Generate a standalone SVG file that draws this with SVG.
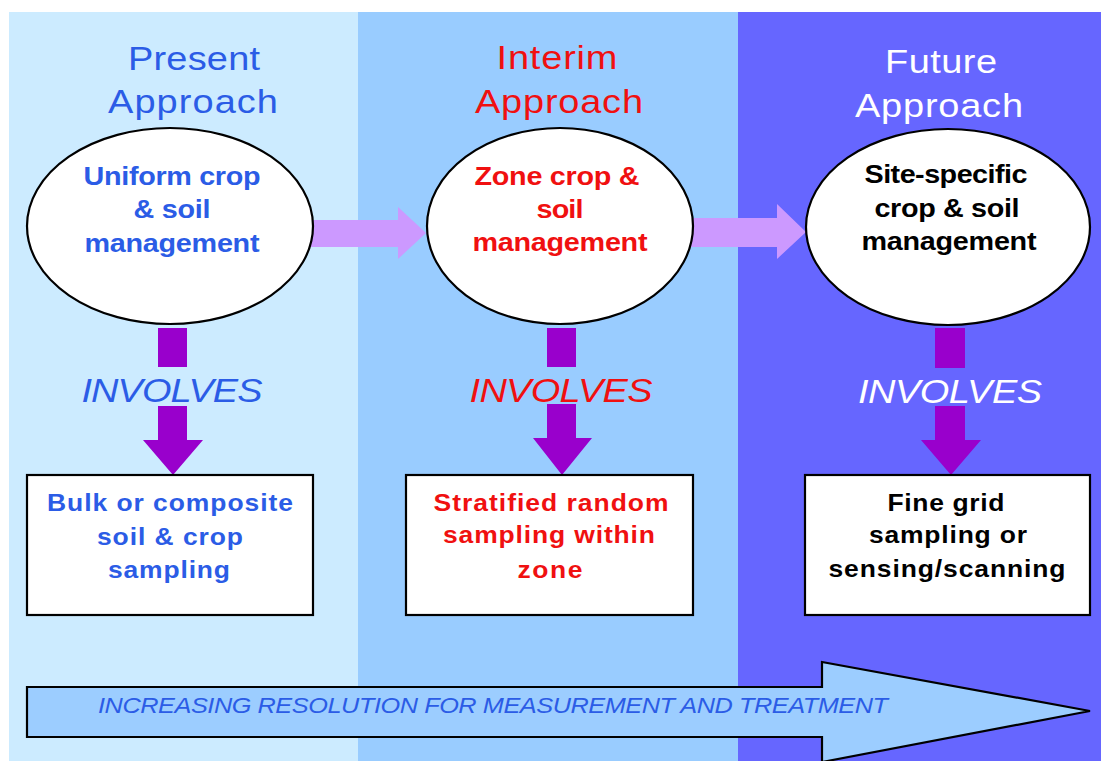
<svg xmlns="http://www.w3.org/2000/svg" width="1101" height="761" viewBox="0 0 1101 761">
<style>
.title{font-family:"Liberation Sans",Arial,sans-serif;font-size:33px;text-anchor:middle}
.el{font-family:"Liberation Sans",Arial,sans-serif;font-size:25px;font-weight:bold;text-anchor:middle}
.bx{font-family:"Liberation Sans",Arial,sans-serif;font-size:23px;font-weight:bold;text-anchor:middle}
.inv{font-family:"Liberation Sans",Arial,sans-serif;font-size:33px;font-style:italic;text-anchor:middle}
.blue{fill:#2B5CE6}
.red{fill:#F01010}
.white{fill:#FFFFFF}
.black{fill:#000000}
.ell{fill:#FFFFFF;stroke:#000;stroke-width:2.2}
.box{fill:#FFFFFF;stroke:#000;stroke-width:2.2}
.harrow{fill:#CC99FF}
.varrow{fill:#9900CC}
</style>
<rect x="0" y="0" width="1101" height="761" fill="#FFFFFF"/>
<g id="panels">
<rect x="9" y="12" width="349" height="749" fill="#CCEBFF"/>
<rect x="358" y="12" width="380" height="749" fill="#99CCFF"/>
<rect x="738" y="12" width="363" height="749" fill="#6666FF"/>
</g>
<g id="titles">
<text class="title blue" transform="translate(194 70) scale(1.15 1)" textLength="114.8" lengthAdjust="spacing">Present</text>
<text class="title blue" transform="translate(193 113) scale(1.15 1)" textLength="147.8" lengthAdjust="spacing">Approach</text>
<text class="title red" transform="translate(557 69) scale(1.15 1)" textLength="105.2" lengthAdjust="spacing">Interim</text>
<text class="title red" transform="translate(559 113) scale(1.15 1)" textLength="146.1" lengthAdjust="spacing">Approach</text>
<text class="title white" transform="translate(941 73) scale(1.15 1)" textLength="97.4" lengthAdjust="spacing">Future</text>
<text class="title white" transform="translate(939 117) scale(1.15 1)" textLength="146.1" lengthAdjust="spacing">Approach</text>
</g>
<g id="connectors">
<polygon class="harrow" points="300,220 398,220 398,207 426,233 398,259 398,247 300,247"/>
<polygon class="harrow" points="680,218 777,218 777,204 806,232 777,259 777,247 680,247"/>
<rect class="varrow" x="158" y="328" width="29" height="39"/>
<polygon class="varrow" points="158,406 187,406 187,440 203,440 173,475 143,440 158,440"/>
<rect class="varrow" x="547" y="328" width="29" height="39"/>
<polygon class="varrow" points="547,404 576,404 576,438 592,438 562,475 533,438 547,438"/>
<rect class="varrow" x="935" y="328" width="30" height="40"/>
<polygon class="varrow" points="935,406 965,406 965,440 981,440 951,475 921,440 935,440"/>
<text class="inv blue" transform="translate(172 402) scale(1.15 1)" textLength="157.4" lengthAdjust="spacing">INVOLVES</text>
<text class="inv red" transform="translate(561 402) scale(1.15 1)" textLength="159.1" lengthAdjust="spacing">INVOLVES</text>
<text class="inv white" transform="translate(950 403) scale(1.15 1)" textLength="160" lengthAdjust="spacing">INVOLVES</text>
</g>
<g id="node-present">
<ellipse class="ell" cx="170" cy="226" rx="143" ry="98"/>
<text class="el blue" transform="translate(172 185) scale(1.15 1)" textLength="153.9" lengthAdjust="spacing">Uniform crop</text>
<text class="el blue" transform="translate(172 218) scale(1.15 1)" textLength="67" lengthAdjust="spacing">&amp; soil</text>
<text class="el blue" transform="translate(172 252) scale(1.15 1)" textLength="152.2" lengthAdjust="spacing">management</text>
</g>
<g id="node-interim">
<ellipse class="ell" cx="560" cy="226" rx="133" ry="98"/>
<text class="el red" transform="translate(557 185) scale(1.15 1)" textLength="143.5" lengthAdjust="spacing">Zone crop &amp;</text>
<text class="el red" transform="translate(560 218) scale(1.15 1)" textLength="40.9" lengthAdjust="spacing">soil</text>
<text class="el red" transform="translate(560 251) scale(1.15 1)" textLength="152.2" lengthAdjust="spacing">management</text>
</g>
<g id="node-future">
<ellipse class="ell" cx="948" cy="227" rx="142" ry="98"/>
<text class="el black" transform="translate(946 183) scale(1.15 1)" textLength="141.7" lengthAdjust="spacing">Site-specific</text>
<text class="el black" transform="translate(947 217) scale(1.15 1)" textLength="126.1" lengthAdjust="spacing">crop &amp; soil</text>
<text class="el black" transform="translate(949 250) scale(1.15 1)" textLength="152.2" lengthAdjust="spacing">management</text>
</g>
<g id="box-present">
<rect class="box" x="27" y="475" width="286" height="140"/>
<text class="bx blue" transform="translate(170 511) scale(1.15 1)" textLength="213.9" lengthAdjust="spacing">Bulk or composite</text>
<text class="bx blue" transform="translate(170 545) scale(1.15 1)" textLength="127" lengthAdjust="spacing">soil &amp; crop</text>
<text class="bx blue" transform="translate(169 578) scale(1.15 1)" textLength="106.1" lengthAdjust="spacing">sampling</text>
</g>
<g id="box-interim">
<rect class="box" x="406" y="475" width="287" height="140"/>
<text class="bx red" transform="translate(551 511) scale(1.15 1)" textLength="204.3" lengthAdjust="spacing">Stratified random</text>
<text class="bx red" transform="translate(549 543) scale(1.15 1)" textLength="184.3" lengthAdjust="spacing">sampling within</text>
<text class="bx red" transform="translate(550 578) scale(1.15 1)" textLength="56.5" lengthAdjust="spacing">zone</text>
</g>
<g id="box-future">
<rect class="box" x="805" y="475" width="285" height="140"/>
<text class="bx black" transform="translate(946 511) scale(1.15 1)" textLength="101.7" lengthAdjust="spacing">Fine grid</text>
<text class="bx black" transform="translate(948 543) scale(1.15 1)" textLength="137.4" lengthAdjust="spacing">sampling or</text>
<text class="bx black" transform="translate(947 577) scale(1.15 1)" textLength="206.1" lengthAdjust="spacing">sensing/scanning</text>
</g>
<g id="resolution-arrow">
<polygon points="27,687 822,687 822,662 1090,711 822,762 822,737 27,737" fill="#9CCDFF" stroke="#000" stroke-width="2.2"/>
<text transform="translate(98 713) scale(1.15 1)" font-family="Liberation Sans, Arial, sans-serif" font-size="22" font-style="italic" fill="#2B5CE6" textLength="687" lengthAdjust="spacing">INCREASING RESOLUTION FOR MEASUREMENT AND TREATMENT</text>
</g>
</svg>
